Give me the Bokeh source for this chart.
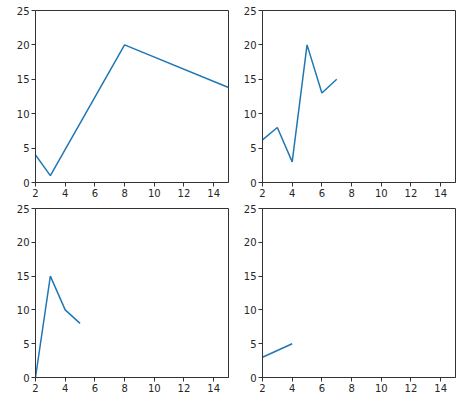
from bokeh.plotting import figure
from bokeh.layouts import gridplot
from bokeh.models import FixedTicker, Range1d
from bokeh.embed import file_html
from bokeh.resources import INLINE

# Data
x1 = [2, 3, 8, 15]
y1 = [4, 1, 20, 13.8]
x2 = [2, 3, 4, 5, 6, 7]
y2 = [6.2, 8, 3, 20, 13, 15]
x3 = [2, 3, 4, 5]
y3 = [0, 15, 10, 8]
x4 = [2, 4]
y4 = [3, 5]

x_ticks = [2, 4, 6, 8, 10, 12, 14]
y_ticks = [0, 5, 10, 15, 20, 25]

LINE = "#1f77b4"
FRAME = "#333333"


def panel(xs, ys, left, top, bottom):
    p = figure(width=left + 193 + 7, height=top + 172 + bottom, output_backend="svg",
               toolbar_location=None, x_range=Range1d(2, 15), y_range=Range1d(0, 25),
               min_border_left=left, min_border_right=7,
               min_border_top=top, min_border_bottom=bottom)
    p.line(xs, ys, line_color=LINE, line_width=1.5)
    p.grid.visible = False
    p.outline_line_color = FRAME
    p.outline_line_width = 1
    p.outline_line_alpha = 1
    p.background_fill_color = "white"
    p.border_fill_color = "white"
    for ax in (p.xaxis[0], p.yaxis[0]):
        ax.axis_line_color = FRAME
        ax.major_tick_line_color = FRAME
        ax.major_tick_out = 4
        ax.major_tick_in = 0
        ax.minor_tick_line_color = None
        ax.major_label_text_font = "DejaVu Sans"
        ax.major_label_text_font_size = "10px"
        ax.major_label_text_color = "#262626"
        ax.major_label_standoff = 2
    p.xaxis.ticker = FixedTicker(ticks=x_ticks)
    p.yaxis.ticker = FixedTicker(ticks=y_ticks)
    return p


p1 = panel(x1, y1, 35, 10, 18)
p2 = panel(x2, y2, 27, 10, 18)
p3 = panel(x3, y3, 35, 8, 14)
p4 = panel(x4, y4, 27, 8, 14)

grid = gridplot([[p1, p2], [p3, p4]], toolbar_location=None)

open("out.html", "w").write(file_html(grid, INLINE))
